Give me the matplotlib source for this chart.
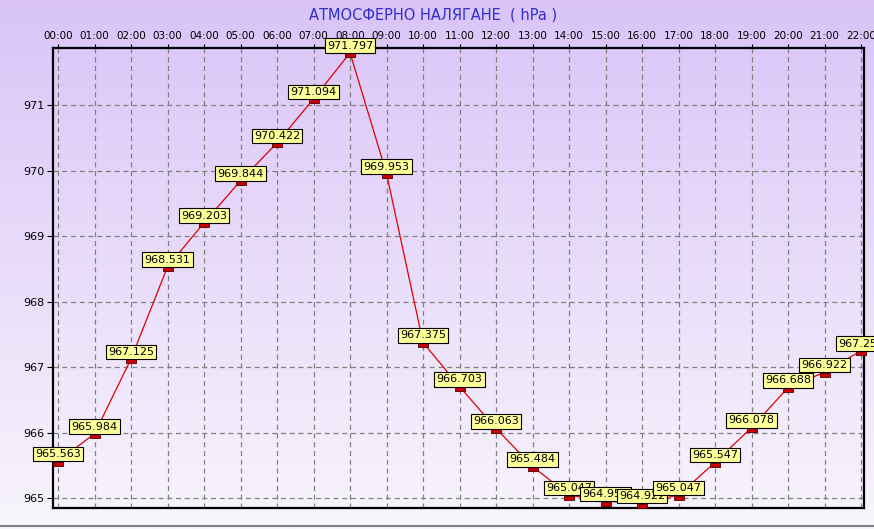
import numpy as np
import matplotlib.pyplot as plt
from matplotlib.colors import LinearSegmentedColormap
from matplotlib.transforms import offset_copy

# данни
hours = ["00:00", "01:00", "02:00", "03:00", "04:00", "05:00", "06:00", "07:00",
         "08:00", "09:00", "10:00", "11:00", "12:00", "13:00", "14:00", "15:00",
         "16:00", "17:00", "18:00", "19:00", "20:00", "21:00", "22:00"]
pressure = [965.563, 965.984, 967.125, 968.531, 969.203, 969.844, 970.422, 971.094,
            971.797, 969.953, 967.375, 966.703, 966.063, 965.484, 965.047, 964.953,
            964.922, 965.047, 965.547, 966.078, 966.688, 966.922, 967.250]
y_ticks = [965, 966, 967, 968, 969, 970, 971]
title = "АТМОСФЕРНО НАЛЯГАНЕ  ( hPa )"

fig = plt.figure(figsize=(8.74, 5.29), dpi=100)

# фон с градиент
bg = fig.add_axes([0, 0, 1, 1], zorder=-10)
cmap = LinearSegmentedColormap.from_list("bg", ["#f8f5fc", "#dac4f8"])
grad = np.linspace(0, 1, 256).reshape(-1, 1)
bg.imshow(grad, aspect="auto", cmap=cmap, origin="lower", extent=[0, 1, 0, 1])
bg.axhline(0.005, color="#808080", lw=1.5)
bg.set_axis_off()

ax = fig.add_axes([53 / 874, 21 / 529, 811 / 874, 460 / 529])
ax.patch.set_alpha(0)

x = np.arange(len(hours))
ax.plot(x, pressure, color="#e00000", lw=0.9, zorder=3)
# маркерите висят малко под стойността
mk = [(-1, -0.5), (1, -0.5), (1, 0.5), (-1, 0.5), (-1, -0.5)]
ax.scatter(x, pressure, marker=mk, s=45, color="#cc0000", edgecolor="#500000",
           linewidth=0.6, zorder=4, clip_on=False,
           transform=offset_copy(ax.transData, fig, y=-2.5, units="dots"))
for xi, v in zip(x, pressure):
    ax.annotate(f"{v:.3f}", (xi, v), xytext=(0, 1.5), textcoords="offset points",
                ha="center", va="bottom", fontsize=8, zorder=5, annotation_clip=False,
                bbox=dict(boxstyle="square,pad=0.2", fc="#ffff99", ec="black", lw=0.8))

ax.set_xlim(-0.137, 22.08)
ax.set_ylim(964.85, 971.87)
ax.set_xticks(x)
ax.set_xticklabels(hours)
ax.set_yticks(y_ticks)
ax.xaxis.tick_top()
ax.tick_params(axis="x", labelsize=7.5, length=3, pad=2)
ax.tick_params(axis="y", labelsize=8, length=4, pad=2)
ax.grid(True, color="#808080", ls=(0, (4, 3)), lw=0.9)
for s in ax.spines.values():
    s.set_linewidth(1.6)
    s.set_color("black")

fig.text(0.495, 0.972, title, ha="center", va="center", fontsize=10.5, color="#3030c8")

fig.savefig("out.png", dpi=100)
